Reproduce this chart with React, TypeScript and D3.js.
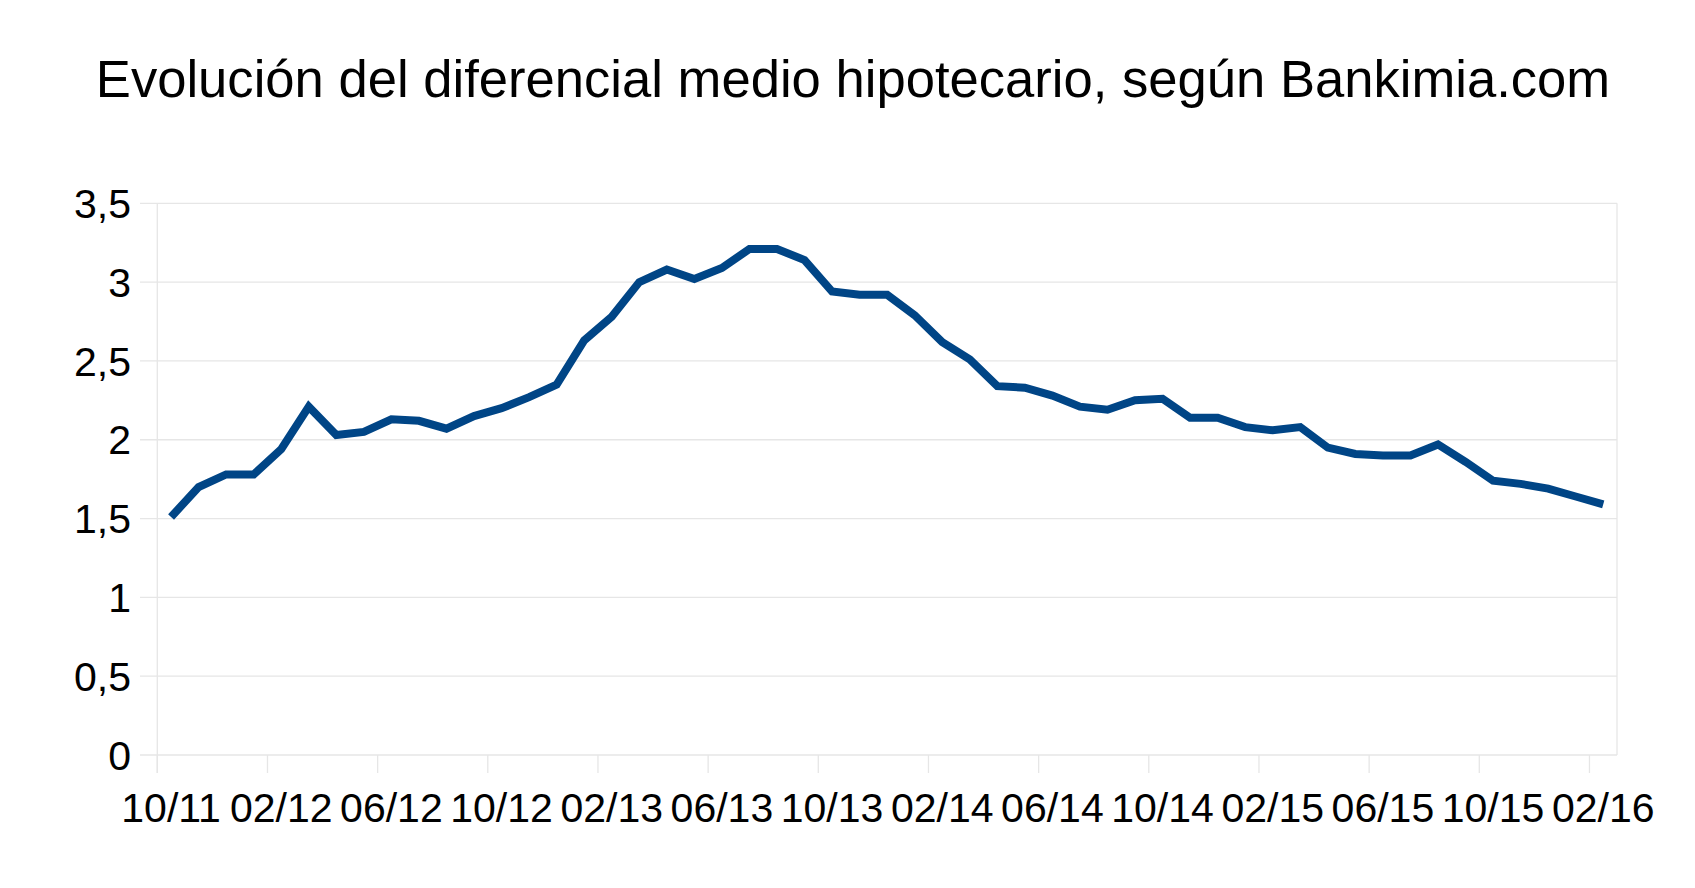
import React, { useEffect } from "react";
import * as d3 from "d3";

const categories: string[] = [
  "10/11", "11/11", "12/11", "01/12", "02/12", "03/12", "04/12", "05/12", "06/12", "07/12", "08/12", "09/12",
  "10/12", "11/12", "12/12", "01/13", "02/13", "03/13", "04/13", "05/13", "06/13", "07/13", "08/13", "09/13",
  "10/13", "11/13", "12/13", "01/14", "02/14", "03/14", "04/14", "05/14", "06/14", "07/14", "08/14", "09/14",
  "10/14", "11/14", "12/14", "01/15", "02/15", "03/15", "04/15", "05/15", "06/15", "07/15", "08/15", "09/15",
  "10/15", "11/15", "12/15", "01/16", "02/16",
];

const values: number[] = [
  1.51, 1.70, 1.78, 1.78, 1.94, 2.21, 2.03, 2.05, 2.13, 2.12, 2.07, 2.15,
  2.20, 2.27, 2.35, 2.63, 2.78, 3.00, 3.08, 3.02, 3.09, 3.21, 3.21, 3.14,
  2.94, 2.92, 2.92, 2.79, 2.62, 2.51, 2.34, 2.33, 2.28, 2.21, 2.19, 2.25,
  2.26, 2.14, 2.14, 2.08, 2.06, 2.08, 1.95, 1.91, 1.90, 1.90, 1.97, 1.86,
  1.74, 1.72, 1.69, 1.64, 1.59,
];

const yTicks: number[] = [0, 0.5, 1, 1.5, 2, 2.5, 3, 3.5];
const yTickLabels: string[] = ["0", "0,5", "1", "1,5", "2", "2,5", "3", "3,5"];
const labelEvery = 4;
const title = "Evolución del diferencial medio hipotecario, según Bankimia.com";

const W = 1695;
const H = 888;
const FONT = "'Liberation Sans', Arial, sans-serif";
const GRID = "#e6e6e6";
const LINE = "#004586";

export default function App() {
  useEffect(() => {
    document.body.style.margin = "0";
    document.body.style.overflow = "hidden";
  }, []);

  const x = d3.scaleBand<string>().domain(categories).range([157.3, 1617]).paddingInner(0).paddingOuter(0);
  const y = d3.scaleLinear().domain([0, 3.5]).range([755, 203.3]);
  const cx = (c: string) => (x(c) as number) + x.bandwidth() / 2;

  const line = d3
    .line<number>()
    .x((_, i) => cx(categories[i]))
    .y((d) => y(d));

  const [x0, x1] = x.range();
  const tickCats = categories.filter((_, i) => i % labelEvery === 0);

  return (
    <svg width={W} height={H} style={{ display: "block", position: "absolute", left: 0, top: 0 }}>
      <rect x={0} y={0} width={W} height={H} fill="#ffffff" />
      <text x={853} y={96.7} textAnchor="middle" fontFamily={FONT} fontSize={52.6} fill="#000">
        {title}
      </text>
      {yTicks.map((t) => (
        <line key={"g" + t} x1={140} x2={x1} y1={y(t)} y2={y(t)} stroke={GRID} strokeWidth={1.3} />
      ))}
      <line x1={x0} x2={x0} y1={y(3.5)} y2={y(0) + 18} stroke={GRID} strokeWidth={1.3} />
      <line x1={x1} x2={x1} y1={y(3.5)} y2={y(0)} stroke={GRID} strokeWidth={1.3} />
      {tickCats.map((c) => (
        <line key={"t" + c} x1={x(c) as number} x2={x(c) as number} y1={y(0)} y2={y(0) + 18} stroke={GRID} strokeWidth={1.3} />
      ))}
      {yTicks.map((t, i) => (
        <text key={"yl" + t} x={131} y={y(t) + 14.7} textAnchor="end" fontFamily={FONT} fontSize={41} fill="#000">
          {yTickLabels[i]}
        </text>
      ))}
      {tickCats.map((c) => (
        <text key={"xl" + c} x={cx(c)} y={821.7} textAnchor="middle" fontFamily={FONT} fontSize={41} fill="#000">
          {c}
        </text>
      ))}
      <path d={line(values) || ""} fill="none" stroke={LINE} strokeWidth={8} strokeLinejoin="miter" strokeLinecap="butt" />
    </svg>
  );
}
